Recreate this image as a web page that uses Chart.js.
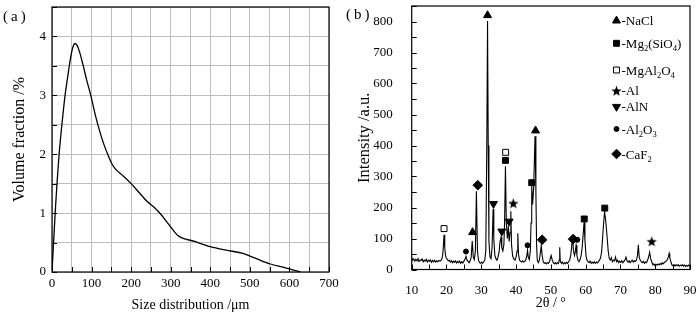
<!DOCTYPE html>
<html>
<head>
<meta charset="utf-8">
<script src="https://cdn.jsdelivr.net/npm/chart.js@4.4.0/dist/chart.umd.min.js"></script>
<style>
  body { margin: 0; background: #fff; }
  #wrap { position: relative; width: 700px; height: 315px; }
  canvas { position: absolute; top: 0; }
  #size { left: 0; }
  #xrd { left: 345px; }
</style>
</head>
<body>
<div id="wrap">
  <canvas id="size" width="345" height="315"></canvas>
  <canvas id="xrd" width="355" height="315"></canvas>
</div>
<script>
// (a) particle size distribution
const sizeUm = [0, 8, 18, 25, 33, 40, 46, 52, 58, 64, 70, 79, 88, 98, 110, 121, 132, 142, 152, 160,
  180, 200, 220, 240, 258, 275, 296, 318, 360, 400, 440, 480, 515, 550, 590, 628];
const volumeFraction = [0, 1.0, 2.0, 2.5, 3.0, 3.33, 3.6, 3.8, 3.88, 3.84, 3.73, 3.5, 3.25, 3.0, 2.65, 2.38, 2.15, 1.98, 1.83, 1.75,
  1.63, 1.5, 1.35, 1.2, 1.1, 0.98, 0.8, 0.62, 0.52, 0.43, 0.37, 0.32, 0.23, 0.14, 0.07, 0];

// (b) XRD pattern
const twoTheta = [
  10.0, 10.3, 10.6, 10.9, 11.2, 11.5, 11.8, 12.1, 12.4, 12.7,
  13.0, 13.3, 13.6, 13.9, 14.2, 14.5, 14.8, 15.1, 15.4, 15.7,
  16.0, 16.3, 16.6, 16.9, 17.2, 17.5, 17.8, 18.2, 18.6, 18.9,
  19.1, 19.3, 19.5, 19.7, 19.9, 20.2, 20.5, 20.8, 21.1, 21.4,
  21.7, 22.0, 22.3, 22.6, 22.9, 23.2, 23.5, 23.8, 24.1, 24.4,
  24.7, 25.0, 25.3, 25.6, 25.9, 26.2, 26.5, 26.8, 27.1, 27.4,
  27.7, 28.0, 28.3, 28.6, 28.9, 29.2, 29.5, 29.8, 30.1, 30.4,
  30.7, 31.0, 31.3, 31.6, 31.8, 32.0, 32.2, 32.5, 32.8, 33.1,
  33.4, 33.6, 33.9, 34.2, 34.5, 34.8, 35.1, 35.4, 35.7, 35.9,
  36.2, 36.5, 36.7, 36.95, 37.2, 37.5, 37.8, 38.0, 38.3, 38.5,
  38.7, 39.0, 39.3, 39.7, 40.0, 40.3, 40.5, 40.7, 41.0, 41.3,
  41.6, 41.9, 42.2, 42.5, 42.8, 43.1, 43.3, 43.5, 43.8, 44.1,
  44.3, 44.5, 44.75, 45.05, 45.45, 45.7, 45.9, 46.1, 46.4, 46.7,
  47.0, 47.25, 47.5, 47.8, 48.1, 48.4, 48.7, 49.0, 49.3, 49.6,
  49.9, 50.1, 50.4, 50.7, 51.0, 51.3, 51.6, 51.9, 52.2, 52.4,
  52.55, 52.7, 53.0, 53.3, 53.6, 53.9, 54.2, 54.5, 54.8, 55.1,
  55.4, 55.7, 56.0, 56.25, 56.5, 56.8, 57.0, 57.25, 57.5, 57.8,
  58.1, 58.4, 58.7, 59.0, 59.3, 59.55, 59.8, 60.1, 60.4, 60.7,
  61.0, 61.3, 61.6, 61.9, 62.2, 62.5, 62.8, 63.1, 63.4, 63.7,
  64.0, 64.3, 64.6, 64.9, 65.2, 65.45, 65.7, 65.95, 66.2, 66.5,
  66.8, 67.1, 67.4, 67.7, 68.0, 68.3, 68.6, 68.9, 69.2, 69.5,
  69.8, 70.1, 70.4, 70.7, 71.0, 71.3, 71.6, 71.9, 72.2, 72.5,
  72.8, 73.1, 73.4, 73.7, 74.0, 74.3, 74.6, 74.9, 75.15, 75.4,
  75.7, 76.0, 76.3, 76.6, 76.9, 77.2, 77.5, 77.8, 78.1, 78.4,
  78.7, 79.0, 79.3, 79.6, 79.9, 80.2, 80.5, 80.8, 81.1, 81.4,
  81.7, 82.0, 82.3, 82.6, 82.9, 83.2, 83.5, 83.8, 84.0, 84.2,
  84.5, 84.8, 85.1, 85.4, 85.7, 86.0, 86.3, 86.6, 86.9, 87.2,
  87.5, 87.8, 88.1, 88.4, 88.7, 89.0, 89.3, 89.6, 89.9, 90.0
];
const intensity = [
  38, 30, 34, 27, 33, 28, 35, 26, 31, 29,
  34, 25, 30, 27, 33, 24, 30, 26, 31, 23,
  29, 25, 30, 24, 28, 25, 29, 27, 32, 45,
  75, 112, 70, 48, 38, 33, 28, 30, 24, 28,
  22, 27, 23, 28, 21, 26, 22, 27, 20, 25,
  21, 27, 32, 42, 30, 26, 22, 28, 40, 92,
  40, 32, 60, 252, 60, 30, 22, 20, 24, 20,
  25, 30, 60, 420, 802, 400, 90, 40, 35, 70,
  195, 100, 45, 35, 30, 40, 55, 90, 105, 70,
  60, 80, 150, 333, 150, 100, 140, 90, 120, 188,
  80, 45, 35, 30, 40, 60, 117, 50, 30, 27,
  24, 28, 24, 26, 30, 45, 62, 40, 32, 60,
  150, 272, 210, 260, 430, 250, 80, 30, 22, 30,
  55, 78, 45, 25, 20, 22, 18, 22, 20, 25,
  38, 45, 30, 22, 18, 22, 18, 22, 20, 30,
  72, 28, 20, 24, 18, 22, 19, 23, 20, 25,
  30, 45, 75, 112, 60, 45, 55, 78, 45, 30,
  25, 32, 45, 70, 115, 152, 95, 45, 30, 25,
  22, 27, 20, 24, 20, 25, 20, 24, 21, 26,
  30, 38, 58, 105, 155, 186, 165, 135, 100, 58,
  35, 30, 38, 25, 30, 28, 40, 25, 30, 22,
  27, 23, 28, 22, 26, 30, 40, 28, 24, 28,
  22, 26, 30, 24, 28, 26, 30, 45, 80, 40,
  30, 25, 22, 26, 20, 24, 22, 30, 40, 55,
  35, 25, 15, 18, 13, 17, 14, 18, 15, 19,
  16, 22, 18, 22, 25, 28, 32, 42, 52, 38,
  25, 15, 12, 16, 11, 15, 12, 16, 11, 14,
  12, 16, 11, 14, 10, 13, 11, 14, 10, 12
];

// phase markers (2θ, marker height)
const phaseNames = ['NaCl', 'Mg_2(SiO_4)', 'MgAl_2O_4', 'Al', 'AlN', 'Al_2O_3', 'CaF_2'];
const naclTheta = [27.5, 31.8, 45.6];
const naclHeight = [120, 820, 448];
const forsteriteTheta = [36.95, 44.5, 59.6, 65.5];
const forsteriteHeight = [352, 280, 163, 198];
const spinelTheta = [19.3, 37.0];
const spinelHeight = [132, 378];
const alTheta = [39.2, 79.0];
const alHeight = [214, 91];
const alnTheta = [33.5, 35.9, 38.0];
const alnHeight = [212, 123, 155];
const aluminaTheta = [25.6, 43.3, 57.6];
const aluminaHeight = [58, 78, 96];
const fluoriteTheta = [29.0, 47.5, 56.4];
const fluoriteHeight = [272, 96, 98];

const serif = "'Liberation Serif', 'Times New Roman', serif";
Chart.defaults.font.family = serif;
Chart.defaults.color = '#000';

function pts(xs, ys) {
  return xs.map((x, i) => ({x: x, y: ys[i]}));
}

function makeStar(size) {
  const c = document.createElement('canvas');
  c.width = c.height = size;
  const g = c.getContext('2d');
  const R = size / 2, r = R * 0.42;
  g.beginPath();
  for (let i = 0; i < 10; i++) {
    const a = -Math.PI / 2 + i * Math.PI / 5;
    const rr = i % 2 ? r : R;
    g.lineTo(R + rr * Math.cos(a), R + 0.6 + rr * Math.sin(a));
  }
  g.closePath();
  g.fillStyle = '#000';
  g.fill();
  return c;
}
const starImg = makeStar(11);

// box round the plot, inward ticks, panel letter
const frame = {
  id: 'frame',
  afterDatasetsDraw(chart, args, opts) {
    const ctx = chart.ctx;
    const a = chart.chartArea;
    const sx = chart.scales.x, sy = chart.scales.y;
    ctx.save();
    ctx.fillStyle = '#000';
    for (let v = sx.min; v <= sx.max; v += opts.xStep) {
      const px = Math.round(sx.getPixelForValue(v));
      ctx.fillRect(px, a.bottom - 5, 1, 5);
    }
    for (let v = sy.min; v <= sy.max; v += opts.yStep) {
      const py = Math.round(sy.getPixelForValue(v));
      ctx.fillRect(a.left, py, 5, 1);
    }
    ctx.strokeStyle = '#000';
    ctx.lineWidth = 1.2;
    ctx.strokeRect(a.left, a.top, a.right - a.left, a.bottom - a.top);
    ctx.font = '15px ' + serif;
    ctx.textBaseline = 'middle';
    ctx.letterSpacing = '3px';
    ctx.fillText(opts.letter, opts.lx, opts.ly);
    ctx.restore();
  }
};

// (a)
new Chart(document.getElementById('size'), {
  type: 'line',
  data: {
    datasets: [{
      data: pts(sizeUm, volumeFraction),
      borderColor: '#000',
      borderWidth: 1.3,
      pointRadius: 0,
      fill: false,
      cubicInterpolationMode: 'monotone'
    }]
  },
  options: {
    responsive: false,
    animation: false,
    events: [],
    layout: {padding: {left: 0, top: 7, right: 16, bottom: 0}},
    plugins: {
      legend: {display: false},
      tooltip: {enabled: false},
      frame: {letter: '(a)', lx: 3, ly: 17, xStep: 50, yStep: 0.5}
    },
    scales: {
      x: {
        type: 'linear', min: 0, max: 700,
        afterFit(s) { s.height = 43; s.paddingLeft = 0; s.paddingRight = 0; },
        grid: {display: true, drawTicks: false, color: '#bdbdbd', lineWidth: 1},
        border: {display: false},
        ticks: {stepSize: 50, padding: 3.5, font: {size: 13}, autoSkip: false, maxRotation: 0, minRotation: 0,
          callback: v => v % 100 === 0 ? v : ''},
        title: {display: true, text: 'Size distribution /μm', font: {size: 14}, padding: {bottom: 1.6, top: 0}}
      },
      y: {
        min: 0, max: 4.5,
        afterFit(s) { s.width = 52; s.paddingTop = 0; s.paddingBottom = 0; },
        grid: {display: true, drawTicks: false, color: '#bdbdbd', lineWidth: 1},
        border: {display: false},
        ticks: {stepSize: 0.5, padding: 6, font: {size: 13}, autoSkip: false,
          callback: v => Number.isInteger(v) ? v : ''},
        title: {display: true, text: 'Volume fraction /%', font: {size: 16}, padding: {top: 10, bottom: 0}}
      }
    }
  },
  plugins: [frame]
});

// (b) legend drawn inside the plot with subscripts
const markerStyles = [
  {pointStyle: 'triangle', radius: 4.6, rotation: 0, fill: '#000'},
  {pointStyle: 'rect', radius: 4.2, rotation: 0, fill: '#000'},
  {pointStyle: 'rect', radius: 4.2, rotation: 0, fill: '#fff'},
  {pointStyle: starImg, radius: 5, rotation: 0, fill: '#000'},
  {pointStyle: 'triangle', radius: 4.6, rotation: 180, fill: '#000'},
  {pointStyle: 'circle', radius: 2.5, rotation: 0, fill: '#000'},
  {pointStyle: 'rectRot', radius: 4.8, rotation: 0, fill: '#000'}
];

const phaseLegend = {
  id: 'phaseLegend',
  afterDraw(chart, args, opts) {
    const ctx = chart.ctx;
    ctx.save();
    ctx.textBaseline = 'alphabetic';
    ctx.textAlign = 'left';
    phaseNames.forEach((name, i) => {
      const y = opts.rows[i];
      const st = markerStyles[i];
      ctx.fillStyle = st.fill;
      ctx.strokeStyle = '#000';
      ctx.lineWidth = 1;
      Chart.helpers.drawPoint(ctx, {pointStyle: st.pointStyle, radius: st.radius, rotation: st.rotation, borderWidth: 1}, opts.sx, y);
      ctx.fillStyle = '#000';
      let x = opts.tx;
      ('-' + name).split(/_(\d)/).forEach((part, k) => {
        if (k % 2) {
          ctx.font = '8.5px ' + serif;
          ctx.fillText(part, x, y + 7.5);
        } else {
          ctx.font = '13px ' + serif;
          ctx.fillText(part, x, y + 4.5);
        }
        x += ctx.measureText(part).width;
      });
    });
    ctx.restore();
  }
};

function markerSet(xs, ys, i) {
  const st = markerStyles[i];
  return {
    type: 'scatter',
    data: pts(xs, ys),
    pointStyle: st.pointStyle,
    pointRadius: st.radius,
    rotation: st.rotation,
    backgroundColor: st.fill,
    borderColor: '#000',
    borderWidth: 1,
    showLine: false
  };
}

new Chart(document.getElementById('xrd'), {
  type: 'scatter',
  data: {
    datasets: [
      {
        data: pts(twoTheta, intensity),
        showLine: true,
        borderColor: '#000',
        borderWidth: 1.1,
        pointRadius: 0,
        tension: 0
      },
      markerSet(naclTheta, naclHeight, 0),
      markerSet(forsteriteTheta, forsteriteHeight, 1),
      markerSet(spinelTheta, spinelHeight, 2),
      markerSet(alTheta, alHeight, 3),
      markerSet(alnTheta, alnHeight, 4),
      markerSet(aluminaTheta, aluminaHeight, 5),
      markerSet(fluoriteTheta, fluoriteHeight, 6)
    ]
  },
  options: {
    responsive: false,
    animation: false,
    events: [],
    layout: {padding: {left: 0, top: 6, right: 10, bottom: 0}},
    plugins: {
      legend: {display: false},
      tooltip: {enabled: false},
      frame: {letter: '(b)', lx: 1, ly: 15, xStep: 5, yStep: 50},
      phaseLegend: {sx: 271.5, tx: 276.5, rows: [20.7, 43.3, 70, 90.7, 106.7, 129, 154]}
    },
    scales: {
      x: {
        type: 'linear', min: 10, max: 90,
        afterFit(s) { s.height = 45.5; s.paddingLeft = 0; s.paddingRight = 0; },
        grid: {display: false},
        border: {display: false},
        ticks: {stepSize: 10, padding: 5.4, font: {size: 13}, autoSkip: false, maxRotation: 0, minRotation: 0},
        title: {display: true, text: '2θ / °', font: {size: 14}, padding: {bottom: 3.3, top: 0}}
      },
      y: {
        min: 0, max: 850,
        afterFit(s) { s.width = 66.7; s.paddingTop = 0; s.paddingBottom = 0; },
        grid: {display: false},
        border: {display: false},
        ticks: {stepSize: 100, padding: 11, font: {size: 13}, autoSkip: false, includeBounds: false},
        title: {display: true, text: 'Intensity /a.u.', font: {size: 16.5}, padding: {top: 9.6, bottom: 0}}
      }
    }
  },
  plugins: [frame, phaseLegend]
});
</script>
</body>
</html>
